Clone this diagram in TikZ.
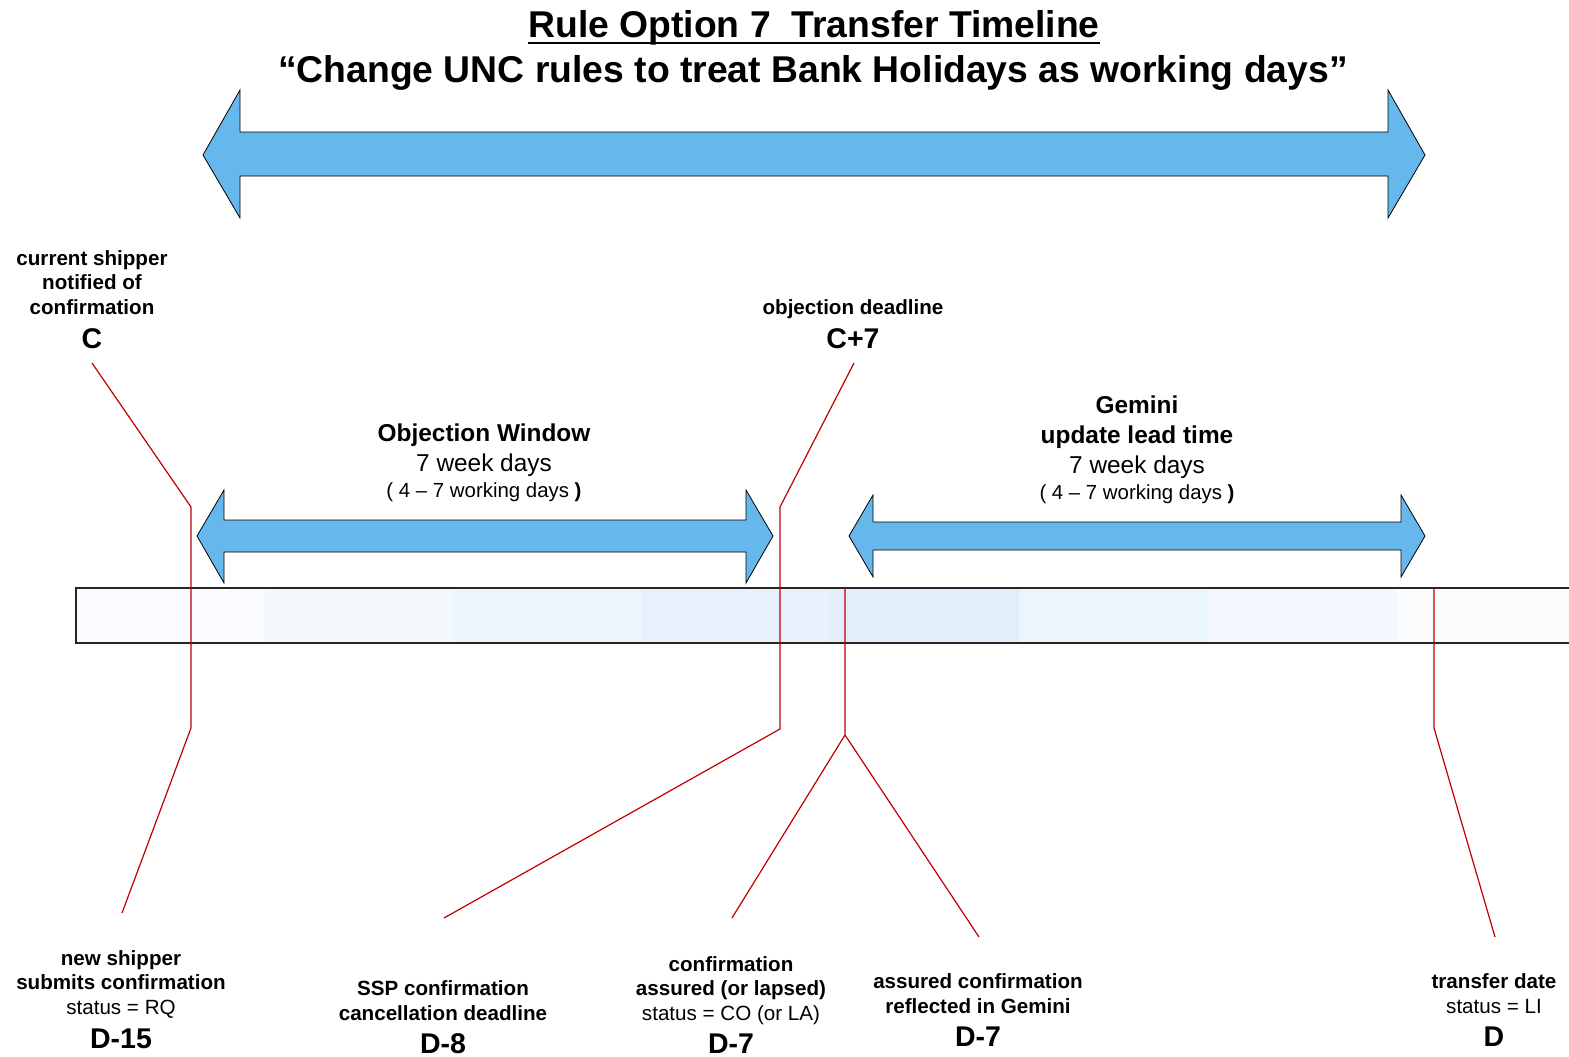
\documentclass[tikz,border=0pt]{standalone}
\usepackage{fontspec}
\setmainfont{Liberation Sans}
\usepackage{tikz}
\usetikzlibrary{positioning}
\usepackage{xcolor}
\definecolor{arrowblue}{HTML}{66B8EC}
\definecolor{markred}{HTML}{C00000}
\tikzset{
  blockarrow/.style={draw=black, fill=arrowblue, line width=0.8pt, line join=miter},
  redline/.style={draw=markred, line width=1.2pt},
  smalltxt/.style={align=center, inner sep=0pt, anchor=base, font=\fontsize{20.6}{24.5}\selectfont\bfseries},
  bigtxt/.style={inner sep=0pt, anchor=base, font=\fontsize{28.5}{30}\selectfont\bfseries},
  midtxt/.style={inner sep=0pt, anchor=base, font=\fontsize{24.4}{28}\selectfont\bfseries},
  worktxt/.style={inner sep=0pt, anchor=base, font=\fontsize{20.4}{24}\selectfont},
  titletxt/.style={inner sep=0pt, anchor=base, font=\fontsize{37.3}{40}\selectfont\bfseries},
}
\begin{document}
\begin{tikzpicture}[x=1pt, y=-1pt]
		\useasboundingbox (0,0) rectangle (1569,1057);
		\clip (0,0) rectangle (1569,1057);
		
		% title
		\node[titletxt] (title) at (814, 38) {Rule Option 7\ \ Transfer Timeline};
		\draw[line width=2.5pt] ([yshift=-5pt]title.base west) -- ([yshift=-5pt]title.base east);
		\node[titletxt] (subtitle) at (813, 83) {“Change UNC rules to treat Bank Holidays as working days”};
		
		% big arrow
		\draw[blockarrow] (203,155) -- (240,90) -- (240,132) -- (1388,132) -- (1388,90) -- (1425,155)
			-- (1388,218) -- (1388,176) -- (240,176) -- (240,218) -- cycle;
		
		% timeline bar
		\foreach \xa/\xb/\shade in {76/265/F9FBFE, 265/453/F4F8FD, 453/642/EDF5FC, 642/830/E6F1FB,
			830/1019/E2EFFA, 1019/1208/EBF5FC, 1208/1397/F2F8FE, 1397/1590/FAFCFE}{
			\definecolor{barshade}{HTML}{\shade}
			\fill[barshade] (\xa,588) rectangle (\xb,643);
		}
		\draw[line width=1.2pt, black!85] (76,588) rectangle (1590,643);
		
		% window arrows
		\draw[blockarrow] (197,536) -- (224,490) -- (224,520) -- (746,520) -- (746,490) -- (773,536)
			-- (746,583) -- (746,552) -- (224,552) -- (224,583) -- cycle;
		\draw[blockarrow] (849,536) -- (873,495) -- (873,522) -- (1401,522) -- (1401,495) -- (1425,536)
			-- (1401,577) -- (1401,550) -- (873,550) -- (873,577) -- cycle;
		
		% upper labels
		\node[smalltxt] (cnote) at (92, 314) {current shipper\\notified of\\confirmation};
		\node[bigtxt] (clabel) at (92, 348) {C};
		\node[smalltxt] (cdead) at (853, 314) {objection deadline};
		\node[bigtxt] (c7label) at (853, 348) {C+7};
		
		\node[midtxt] (objwin) at (484, 441) {Objection Window};
		\node[midtxt, font=\fontsize{24.4}{28}\selectfont] (objweek) at (484, 471) {7 week days};
		\node[worktxt] (objwork) at (484, 497) {( 4 – 7 working days \textbf{)}};
		
		\node[midtxt] (gemini) at (1137, 413) {Gemini};
		\node[midtxt] (gemlead) at (1137, 443) {update lead time};
		\node[midtxt, font=\fontsize{24.4}{28}\selectfont] (gemweek) at (1137, 473) {7 week days};
		\node[worktxt] (gemwork) at (1137, 499) {( 4 – 7 working days \textbf{)}};
		
		% lower labels
		\node[smalltxt] (newship) at (121, 1014) {new shipper\\submits confirmation\\{\mdseries status = RQ}};
		\node[bigtxt] (d15) at (121, 1048) {D-15};
		\node[smalltxt] (ssp) at (443, 1020) {SSP confirmation\\cancellation deadline};
		\node[bigtxt] (d8) at (443, 1053) {D-8};
		\node[smalltxt] (assured) at (731, 1020) {confirmation\\assured (or lapsed)\\{\mdseries status = CO (or LA)}};
		\node[bigtxt] (d7a) at (731, 1053) {D-7};
		\node[smalltxt] (reflect) at (978, 1013) {assured confirmation\\reflected in Gemini};
		\node[bigtxt] (d7b) at (978, 1046) {D-7};
		\node[smalltxt] (transfer) at (1494, 1013) {transfer date\\{\mdseries status = LI}};
		\node[bigtxt] (dlabel) at (1494, 1046) {D};
		
		% red markers
		\coordinate (c1) at (92,363);
		\coordinate (c2) at (191,507);
		\coordinate (c3) at (191,728);
		\coordinate (c4) at (122,913);
		\coordinate (k1) at (854,363);
		\coordinate (k2) at (780,507);
		\coordinate (k3) at (780,729);
		\coordinate (k4) at (444,918);
		\coordinate (a1) at (845,588);
		\coordinate (a2) at (845,735);
		\coordinate (a3) at (732,918);
		\coordinate (a4) at (979,937);
		\coordinate (t1) at (1434,588);
		\coordinate (t2) at (1434,728);
		\coordinate (t3) at (1495,937);
		\draw[redline] (c1) -- (c2) -- (c3) -- (c4);
		\draw[redline] (k1) -- (k2) -- (k3) -- (k4);
		\draw[redline] (a1) -- (a2) -- (a3);
		\draw[redline] (a2) -- (a4);
		\draw[redline] (t1) -- (t2) -- (t3);
\end{tikzpicture}
\end{document}
